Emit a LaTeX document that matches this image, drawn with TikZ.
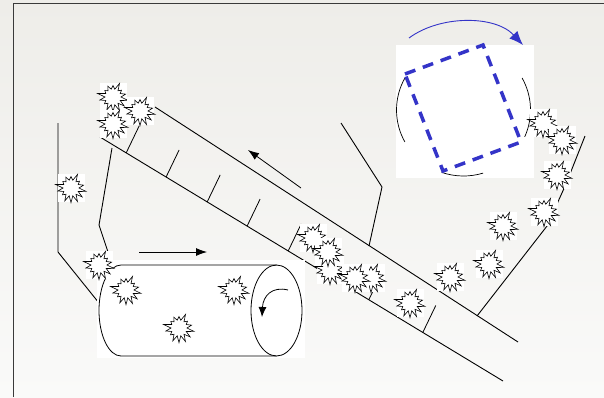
\documentclass[tikz,border=0pt]{standalone}
\usetikzlibrary{arrows.meta,calc,shapes.symbols}

\definecolor{bgtop}{HTML}{EEEDE9}
\definecolor{bgbottom}{HTML}{FAFAF9}
\definecolor{drumblue}{HTML}{3434C8}
\definecolor{framegray}{HTML}{3A3A3A}

\tikzset{
  belt/.style={line width=0.9pt},
  cleat/.style={line width=0.8pt},
  sparkbox/.style={fill=white, minimum width=27pt, minimum height=28pt, inner sep=0pt},
  spark/.style={starburst, draw, fill=white, line width=0.6pt,
    starburst points=14, starburst point height=8pt, random starburst=42,
    minimum width=32pt, minimum height=32pt, inner sep=0pt},
  flow/.style={-{Latex[length=11pt,width=8pt]}, line width=0.8pt}
}

% a spark: white box with a starburst on it
\newcommand{\spark}[3]{%
  \node[sparkbox] (#1) at (#2,#3) {};
  \node[spark] (#1s) at (#1) {};}

\begin{document}
\begin{tikzpicture}[x=1pt,y=-1pt]
\useasboundingbox (0,0) rectangle (604,397);
\shade[top color=bgtop, bottom color=bgbottom] (0,0) rectangle (604,397);
\draw[framegray, line width=1pt] (13,397) -- (13,3) -- (604,3);

% chute on the left
\draw[belt] (58,123) -- (58,252) -- (99,303);
\draw[belt] (112,148) -- (99,225) -- (108,252) -- (100,290);

% belt with cleats
\coordinate (ub1) at (155,107);
\coordinate (ub2) at (518,342);
\coordinate (lb1) at (100,137);
\coordinate (lb2) at (503,381);
\draw[belt] (ub1) -- (ub2);
\draw[belt] (lb1) -- (lb2);
\foreach \t in {0.065,0.164,0.266,0.365,0.467,0.667,0.801}
  \draw[cleat] ($(lb1)!\t!(lb2)$) -- ++(13,-27);

% feed lines
\draw[belt] (341,123) -- (382,187) -- (369,246);
\draw[belt] (585,136) -- (566,184) -- (547,226) -- (477,316);

% rotating drum
\fill[white] (396,45) rectangle (534,178);
\coordinate (dc) at (463.5,110);
\draw[line width=0.7pt] (dc) ++(151:{67} and {66}) arc[start angle=151, end angle=209, x radius=67, y radius=66];
\draw[line width=0.7pt] (dc) ++(-29:{67} and {66}) arc[start angle=-29, end angle=24, x radius=67, y radius=66];
\draw[line width=0.7pt] (dc) ++(73:{67} and {66}) arc[start angle=73, end angle=109, x radius=67, y radius=66];
\draw[drumblue, line width=3.5pt, dash pattern=on 11pt off 8pt]
  (405,74) -- (483,45) -- (521,142) -- (443,171) -- cycle;
\draw[drumblue, line width=0.9pt, -{Latex[length=14pt,width=11pt]}]
  (409,38) .. controls (440,15) and (495,15) .. (523,45);

% tumbler
\fill[white] (97,260) rectangle (305,358);
\draw[line width=0.8pt, fill=white] (276.5,265) -- (121,265)
  .. controls (108.85,265) and (99,285.4) .. (99,310.5)
  .. controls (99,335.6) and (108.85,356) .. (121,356) -- (276.5,356);
\draw[line width=0.8pt] (276.5,310.5) ellipse [x radius=25.5, y radius=45.5];
\draw[line width=0.8pt, -{Latex[length=10pt,width=8pt]}]
  (288,290) .. controls (272,286) and (263,296) .. (262,317);

\draw[flow] (139,252) -- (207,252);
\draw[flow] (301,188) -- (248,150);

% sparks
\spark{s1}{113}{97}
\spark{s2}{113}{124}
\spark{s3}{140}{111}
\spark{s4}{71}{188}
\spark{s5}{99}{265}
\spark{s6}{126}{290}
\spark{s7}{234}{290}
\spark{s8}{179}{328}
\spark{s9}{313}{238}
\spark{s10}{330}{270}
\spark{s11}{328}{252}
\spark{s12}{371}{278}
\spark{s13}{355}{278}
\spark{s14}{410}{303}
\spark{s15}{450}{277}
\spark{s16}{489}{264}
\spark{s17}{503}{226}
\spark{s18}{544}{212}
\spark{s19}{543}{123}
\spark{s20}{562}{140}
\spark{s21}{557}{175}
\end{tikzpicture}
\end{document}
